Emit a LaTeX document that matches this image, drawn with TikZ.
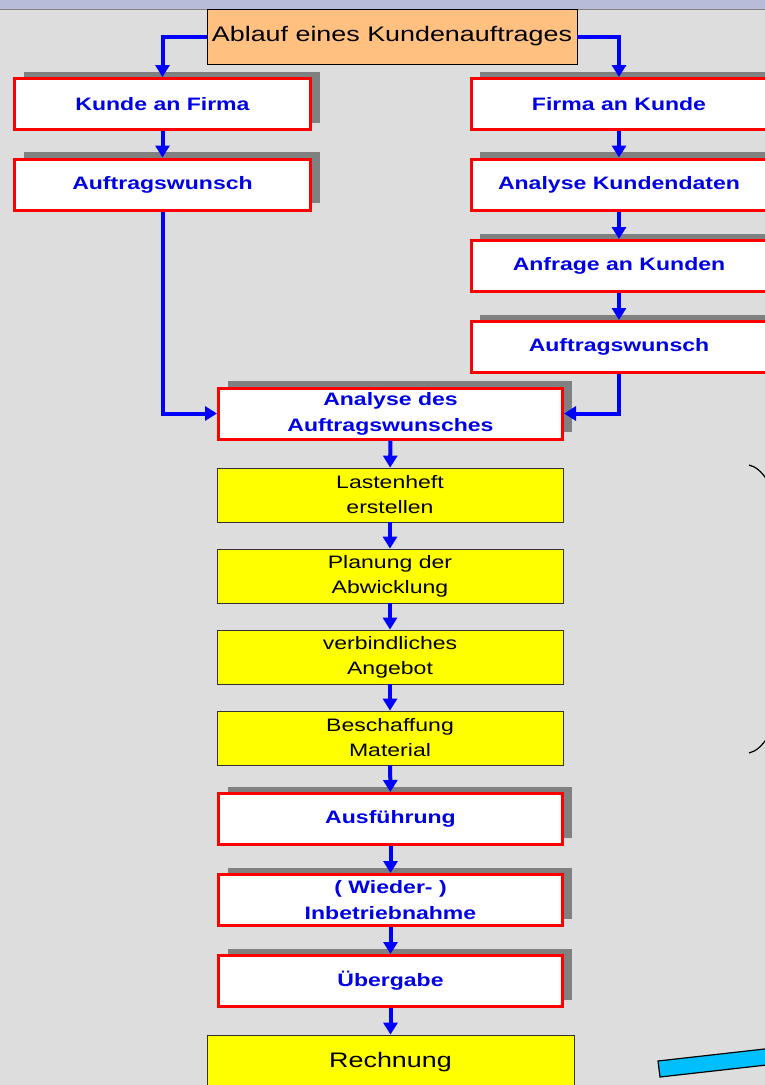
\documentclass[tikz,border=0pt]{standalone}
\usepackage{fontspec}
\usetikzlibrary{arrows.meta,shadows}
\newfontfamily\slidefont[FakeStretch=1.28]{Liberation Sans}
\definecolor{slidebg}{RGB}{221,221,221}
\definecolor{stripblue}{RGB}{184,188,216}
\definecolor{titleorange}{RGB}{255,192,128}
\definecolor{shadowgray}{RGB}{128,128,128}
\definecolor{boxred}{RGB}{255,0,0}
\definecolor{boxyellow}{RGB}{255,255,0}
\definecolor{textblue}{RGB}{0,0,230}
\definecolor{arrowblue}{RGB}{0,0,255}
\definecolor{barblue}{RGB}{0,191,255}

\begin{document}
\begin{tikzpicture}[x=1pt,y=-1pt,
  stepred/.style={draw=boxred, line width=3pt, fill=white, text=textblue, align=center, inner sep=0pt,
    font=\slidefont\bfseries\fontsize{18}{26}\selectfont,
    drop shadow={shadow xshift=9pt, shadow yshift=7pt, fill=shadowgray, opacity=1}},
  sidebox/.style={stepred, minimum width=296pt, minimum height=51pt},
  midbox/.style={stepred, minimum width=344pt, minimum height=51pt},
  stepyellow/.style={draw=black!80, line width=0.8pt, fill=boxyellow, align=center, inner sep=0pt,
    minimum width=346pt, minimum height=54pt, font=\slidefont\fontsize{18}{25}\selectfont},
  flow/.style={draw=arrowblue, line width=4pt, -{Triangle[length=12pt,width=14pt]}}]
\useasboundingbox (0,0) rectangle (765,1085);
\clip (0,0) rectangle (765,1085);
\fill[slidebg] (0,0) rectangle (765,1085);
\fill[stripblue] (0,0) rectangle (765,9);
\draw[shadowgray, line width=1pt] (0,9.5) -- (765,9.5);

\node[draw=black, line width=0.8pt, fill=titleorange, minimum width=370pt, minimum height=55pt, inner sep=0pt,
  font=\slidefont\fontsize{21}{25}\selectfont] (title) at (392,36.5) {Ablauf eines Kundenauftrages};

\node[sidebox] (kunde) at (162.5,104) {Kunde an Firma};
\node[sidebox] (wunschL) at (162.5,184.5) {Auftragswunsch};

\node[sidebox] (firma) at (619,104) {Firma an Kunde};
\node[sidebox] (kdaten) at (619,184.5) {Analyse Kundendaten};
\node[sidebox] (anfrage) at (619,266) {Anfrage an Kunden};
\node[sidebox] (wunschR) at (619,347) {Auftragswunsch};

\node[midbox] (analyse) at (390.5,413.5) {Analyse des\\Auftragswunsches};
\node[stepyellow] (lasten) at (390,495) {Lastenheft\\erstellen};
\node[stepyellow] (planung) at (390,576) {Planung der\\Abwicklung};
\node[stepyellow] (angebot) at (390,657) {verbindliches\\Angebot};
\node[stepyellow] (beschaff) at (390,738) {Beschaffung\\Material};
\node[midbox] (ausf) at (390.5,819) {Ausführung};
\node[midbox] (inbetr) at (390.5,900) {( Wieder- )\\Inbetriebnahme};
\node[midbox] (uebergabe) at (390.5,981) {Übergabe};
\node[stepyellow, minimum width=367pt, font=\slidefont\fontsize{21}{25}\selectfont] (rechnung) at (390.5,1062) {Rechnung};

\draw[flow] (title.west) -| (kunde.north);
\draw[flow] (title.east) -| (firma.north);
\draw[flow] (kunde) -- (wunschL);
\draw[flow] (wunschL) |- (analyse);
\draw[flow] (firma) -- (kdaten);
\draw[flow] (kdaten) -- (anfrage);
\draw[flow] (anfrage) -- (wunschR);
\draw[flow] (wunschR) |- (analyse);
\draw[flow] (analyse) -- (lasten);
\draw[flow] (lasten) -- (planung);
\draw[flow] (planung) -- (angebot);
\draw[flow] (angebot) -- (beschaff);
\draw[flow] (beschaff) -- (ausf);
\draw[flow] (ausf) -- (inbetr);
\draw[flow] (inbetr) -- (uebergabe);
\draw[flow] (uebergabe) -- (rechnung);

\draw[line width=1.2pt] (749,465) .. controls (805,478) and (805,740) .. (749,753);
\draw[line width=1.2pt, fill=barblue] (658,1061) -- (800,1045) -- (802,1061) -- (660,1077) -- cycle;
\end{tikzpicture}
\end{document}
